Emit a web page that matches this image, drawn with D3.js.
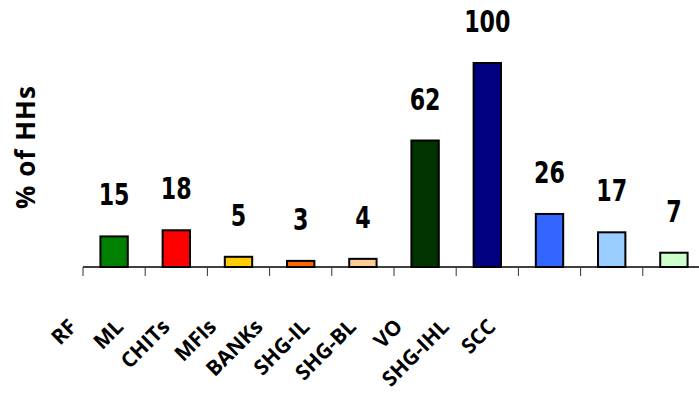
<!DOCTYPE html>
<html>
<head>
<meta charset="utf-8">
<script src="https://cdn.jsdelivr.net/npm/d3@7"></script>
<style>
  html, body { margin: 0; padding: 0; background: #fff; }
  svg { display: block; }
</style>
</head>
<body>
<script>
const categories = ["RF", "ML", "CHITs", "MFIs", "BANKs", "SHG-IL", "SHG-BL", "VO", "SHG-IHL", "SCC"];
const values = [15, 18, 5, 3, 4, 62, 100, 26, 17, 7];
const colors = ["#008000", "#ff0000", "#ffcc00", "#ff6600", "#ffcc99", "#003300", "#000080", "#3366ff", "#99ccff", "#ccffcc"];
const yTitle = "% of HHs";

const W = 699, H = 410;
const svg = d3.select("body").append("svg").attr("width", W).attr("height", H);

const x = d3.scaleBand().domain(categories).range([83, 705]).paddingInner(0.56).paddingOuter(0.28);
const y = d3.scaleLinear().domain([0, 100]).range([267, 63]);
const labelX = d3.scalePoint().domain(categories).range([78, 497]);

// bars
svg.selectAll("rect.bar").data(categories).join("rect")
  .attr("class", "bar")
  .attr("x", d => x(d))
  .attr("width", x.bandwidth())
  .attr("y", (d, i) => y(values[i]))
  .attr("height", (d, i) => y(0) - y(values[i]))
  .attr("fill", (d, i) => colors[i])
  .attr("stroke", "#000")
  .attr("stroke-width", 2);

// x axis line
svg.append("line")
  .attr("x1", x.range()[0]).attr("x2", W)
  .attr("y1", y(0)).attr("y2", y(0))
  .attr("stroke", "#000").attr("stroke-width", 1.5);

// tick marks at band boundaries
svg.selectAll("line.tk").data(categories).join("line")
  .attr("class", "tk")
  .attr("x1", d => x(d) - x.step() * x.paddingOuter())
  .attr("x2", d => x(d) - x.step() * x.paddingOuter())
  .attr("y1", y(0)).attr("y2", y(0) + 9)
  .attr("stroke", "#333").attr("stroke-width", 1);

// value labels (condensed bold)
svg.selectAll("g.val").data(categories).join("g")
  .attr("class", "val")
  .attr("transform", (d, i) => `translate(${x(d) + x.bandwidth() / 2},${y(values[i]) - 31})`)
  .append("text")
  .attr("transform", "scale(0.74,1)")
  .attr("text-anchor", "middle")
  .attr("font-family", "'DejaVu Sans', sans-serif")
  .attr("font-weight", "bold")
  .attr("font-size", 30)
  .attr("fill", "#000")
  .text((d, i) => values[i]);

// category labels, rotated 45 degrees
svg.selectAll("text.cat").data(categories).join("text")
  .attr("class", "cat")
  .attr("transform", d => `translate(${labelX(d)},328) rotate(-45)`)
  .attr("text-anchor", "end")
  .attr("font-family", "'Open Sans', 'DejaVu Sans', sans-serif")
  .attr("font-weight", "bold")
  .attr("font-size", 21)
  .attr("fill", "#000")
  .text(d => d);

// y title
svg.append("text")
  .attr("transform", "translate(35,147) rotate(-90)")
  .attr("text-anchor", "middle")
  .attr("font-family", "'Open Sans', 'DejaVu Sans', sans-serif")
  .attr("font-weight", "bold")
  .attr("font-size", 26)
  .attr("letter-spacing", 1)
  .attr("fill", "#000")
  .text(yTitle);
</script>
</body>
</html>
